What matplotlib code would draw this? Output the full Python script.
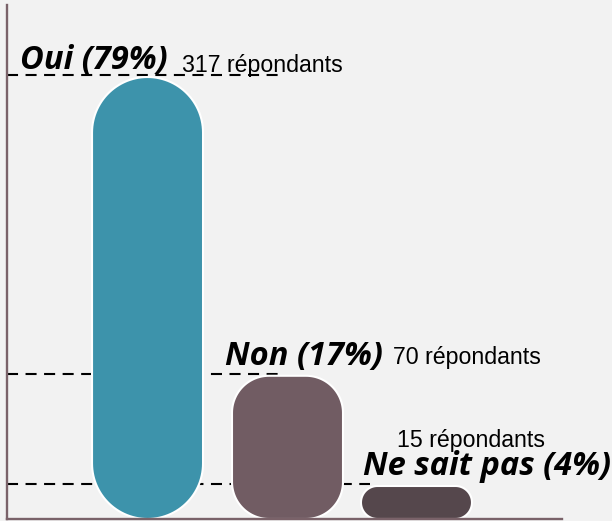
import matplotlib
matplotlib.use("Agg")
import numpy as np
import matplotlib.pyplot as plt
from matplotlib.patches import Polygon

# ---- data ----
categories = ["Oui", "Non", "Ne sait pas"]
percentages = [79, 17, 4]
respondents = [317, 70, 15]
bar_heights = [79, 25.6, 5.9]          # displayed bar heights (axis units)

# ---- style / layout ----
positions = [1.266, 2.527, 3.689]
bar_width = 1.0
colors = ["#3d93ab", "#715c63", "#55474c"]
corner_px = [55.5, 37, 16.5]
dash_end = [2.48, 2.48, 3.27]
bg = "#f2f2f2"
spine_col = "#7a6269"

W, H, DPI = 612, 521, 100
fig = plt.figure(figsize=(W / DPI, H / DPI), dpi=DPI, facecolor=bg)
ax_l, ax_b, ax_w, ax_h = 7 / W, 2 / H, 555 / W, 514 / H
ax = fig.add_axes([ax_l, ax_b, ax_w, ax_h])
ax.set_facecolor(bg)
xmin, xmax = 0, 5.0
ymin, ymax = 0, 91.87
ax.set_xlim(xmin, xmax)
ax.set_ylim(ymin, ymax)

x_per_px = (xmax - xmin) / (ax_w * W)
y_per_px = (ymax - ymin) / (ax_h * H)


def rounded_bar(x0, x1, y0, y1, r_px, n=30):
    rx, ry = r_px * x_per_px, r_px * y_per_px
    rx = min(rx, (x1 - x0) / 2)
    ry = min(ry, (y1 - y0) / 2)
    pts = []
    corners = [(x1 - rx, y1 - ry, 0, 90), (x0 + rx, y1 - ry, 90, 180),
               (x0 + rx, y0 + ry, 180, 270), (x1 - rx, y0 + ry, 270, 360)]
    for cx, cy, a0, a1 in corners:
        t = np.radians(np.linspace(a0, a1, n))
        pts.extend(zip(cx + rx * np.cos(t), cy + ry * np.sin(t)))
    return pts


for pos, h, c, r, de in zip(positions, bar_heights, colors, corner_px, dash_end):
    ax.plot([xmin, de], [h + 0.3, h + 0.3], color="black", lw=1.5,
            dashes=(5.3, 3.6), zorder=1, solid_capstyle="butt",
            dash_capstyle="butt")
    verts = rounded_bar(pos - bar_width / 2, pos + bar_width / 2, 0, h, r)
    ax.add_patch(Polygon(verts, closed=True, facecolor=c, edgecolor="white",
                         lw=1.5, zorder=2, clip_on=False))

# label offsets in pixels relative to bar top-centre (style)
pct_offsets = [(-127.5, 8), (-62.5, 11), (-53.5, 11)]
resp_offsets = [(34.5, 5), (105.5, 12), (-19.5, 39)]

bold_font = dict(family=["Open Sans", "DejaVu Sans"], weight="bold",
                 style="italic", size=23.5)
reg_font = dict(family=["Liberation Sans", "DejaVu Sans"], size=16.7)

for cat, p, n, pos, h, po, ro in zip(categories, percentages, respondents,
                                       positions, bar_heights, pct_offsets,
                                       resp_offsets):
    ax.annotate(f"{cat} ({p}%)", xy=(pos, h), xytext=po,
                textcoords="offset pixels", ha="left", va="baseline",
                color="black", zorder=3, annotation_clip=False, **bold_font)
    ax.annotate(f"{n} répondants", xy=(pos, h), xytext=ro,
                textcoords="offset pixels", ha="left", va="baseline",
                color="black", zorder=3, annotation_clip=False, **reg_font)

for side in ["top", "right"]:
    ax.spines[side].set_visible(False)
for side in ["left", "bottom"]:
    ax.spines[side].set_color(spine_col)
    ax.spines[side].set_linewidth(1.7)
    ax.spines[side].set_zorder(4)
ax.set_xticks([])
ax.set_yticks([])

fig.savefig("out.png", dpi=DPI, facecolor=bg)
